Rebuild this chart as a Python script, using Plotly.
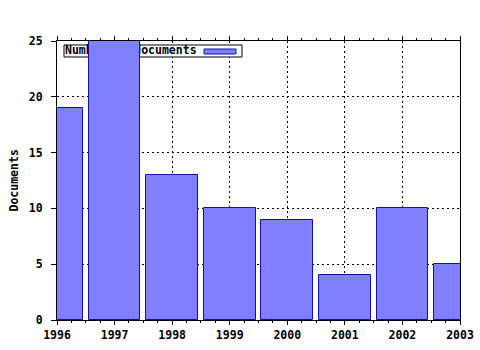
import plotly.graph_objects as go

years = [1996, 1997, 1998, 1999, 2000, 2001, 2002, 2003]
documents = [19, 25, 13, 10, 9, 4, 10, 5]
series_name = "Number of documents"
y_title = "Documents"
x_ticks = years
y_ticks = [0, 5, 10, 15, 20, 25]

FONT = dict(family="DejaVu Sans Mono", size=11.5, color="black", weight="bold")
FILL = "#8080ff"
EDGE = "#1010b0"

fig = go.Figure()

# legend label (base layer, beneath bars)
fig.add_trace(go.Scatter(
    x=[0.0199], y=[0.9642], mode="text", text=[series_name],
    textposition="middle right", textfont=FONT,
    xaxis="x", yaxis="y", showlegend=False, hoverinfo="skip", cliponaxis=False,
))

fig.add_trace(go.Bar(
    x=years, y=documents, width=0.9, name=series_name,
    marker=dict(color=FILL, line=dict(color=EDGE, width=1)),
    xaxis="x2", yaxis="y2", showlegend=False,
))

fig.add_shape(type="rect", xref="x", yref="y", x0=0.0174, x1=0.459, y0=0.9427, y1=0.9857,
              fillcolor="white", line=dict(color="black", width=1), layer="between")
fig.add_shape(type="rect", xref="x", yref="y", x0=0.3648, x1=0.4442, y0=0.9534, y1=0.9713,
              fillcolor=FILL, line=dict(color=EDGE, width=1), layer="between")

grid = dict(showgrid=True, gridcolor="black", gridwidth=1, griddash="2px,3px")

fig.update_layout(
    width=480, height=350,
    margin=dict(l=57, r=20, t=41, b=30, autoexpand=False),
    paper_bgcolor="white", plot_bgcolor="white",
    showlegend=False,
    font=FONT,
    bargap=0,
    xaxis=dict(range=[0, 1], visible=False, showgrid=False, zeroline=False, fixedrange=True,
               automargin=False),
    yaxis=dict(range=[0, 1], visible=False, showgrid=False, zeroline=False, fixedrange=True,
               automargin=False),
    xaxis2=dict(
        overlaying="x", anchor="y2", range=[1996, 2003], automargin=False,
        tickmode="array", tickvals=x_ticks, ticktext=[str(v) for v in x_ticks],
        ticks="outside", ticklen=4, tickcolor="black",
        minor=dict(ticks="outside", ticklen=2, dtick=0.25, tickcolor="black", showgrid=False),
        showline=True, linecolor="black", linewidth=1, mirror="allticks",
        zeroline=False, tickfont=FONT, **grid,
    ),
    yaxis2=dict(
        overlaying="y", anchor="x2", range=[0, 25], automargin=False,
        tickmode="array", tickvals=y_ticks,
        ticks="outside", ticklen=5, tickcolor="black", ticklabelstandoff=6,
        showline=True, linecolor="black", linewidth=1, mirror=True,
        zeroline=False, tickfont=FONT, **grid,
    ),
    annotations=[dict(
        text=y_title, xref="paper", yref="paper", x=-0.1067, y=0.5,
        xanchor="center", yanchor="middle", textangle=-90, showarrow=False, font=FONT,
    )],
)

fig.write_html("out.html")
